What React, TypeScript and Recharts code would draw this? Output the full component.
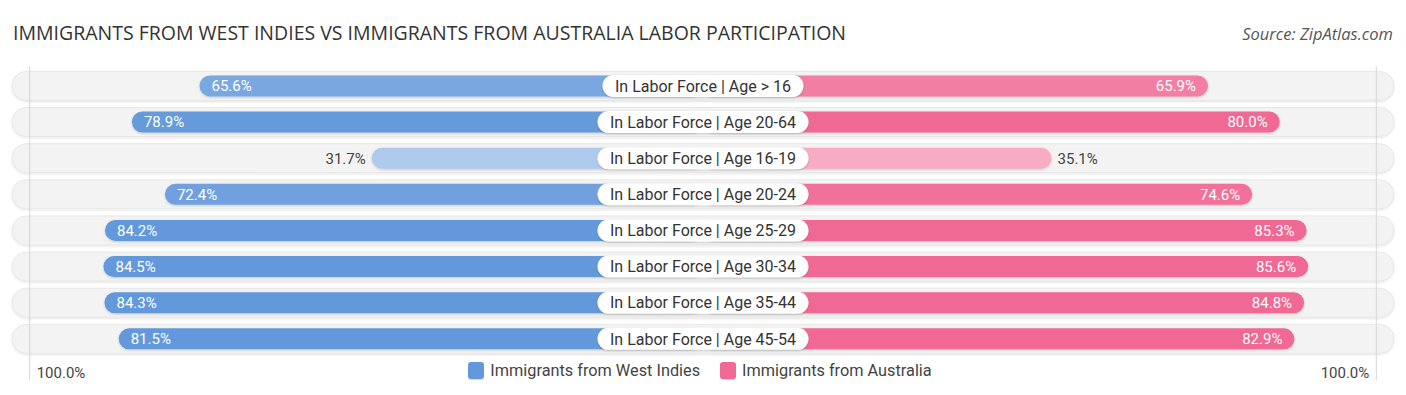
import React from 'react';
import { BarChart, Bar, XAxis, YAxis, Legend, LabelList } from 'recharts';

// ---- data ----
const categories = [
  'In Labor Force | Age > 16',
  'In Labor Force | Age 20-64',
  'In Labor Force | Age 16-19',
  'In Labor Force | Age 20-24',
  'In Labor Force | Age 25-29',
  'In Labor Force | Age 30-34',
  'In Labor Force | Age 35-44',
  'In Labor Force | Age 45-54',
];
const westIndies = [65.6, 78.9, 31.7, 72.4, 84.2, 84.5, 84.3, 81.5];
const australia = [65.9, 80.0, 35.1, 74.6, 85.3, 85.6, 84.8, 82.9];
const seriesNames = ['Immigrants from West Indies', 'Immigrants from Australia'];
const axisTickLabels = ['100.0%', '100.0%'];
const title = 'IMMIGRANTS FROM WEST INDIES VS IMMIGRANTS FROM AUSTRALIA LABOR PARTICIPATION';
const source = 'Source: ZipAtlas.com';

// ---- layout constants ----
const FULL = 100;
const GAP = 33.5; // half-width of the centre label zone, in value units
const DOMAIN = 136;
const W = 1406;
const H = 395;
const PLOT_TOP = 67.4;

const BLUE = '#6399db';
const PINK = '#f06994';

const data = categories.map((category, i) => ({ category, west: westIndies[i], aus: australia[i] }));

const mix = (hex: string, t: number) => {
  const n = parseInt(hex.slice(1), 16);
  const r = (n >> 16) & 255, g = (n >> 8) & 255, b = n & 255;
  const m = (c: number) => Math.round(c * t + 255 * (1 - t));
  return `rgb(${m(r)},${m(g)},${m(b)})`;
};
const intensity = (v: number) => Math.min(1, 0.2 + v / 100);

const norm = (x: number, w: number): [number, number] => (w < 0 ? [x + w, -w] : [x, w]);

let ctx: CanvasRenderingContext2D | null = null;
const measure = (text: string, font: string) => {
  if (!ctx) ctx = document.createElement('canvas').getContext('2d');
  if (!ctx) return text.length * 7.8;
  ctx.font = font;
  return ctx.measureText(text).width;
};

const LABEL_FONT = 'Roboto, "Noto Sans", sans-serif';
const VALUE_SIZE = 15;
const CENTER_SIZE = 16;

const BgShape = (props: any) => {
  const { x, y, width, height } = props;
  const h = height + 8;
  return (
    <rect x={x} y={y - 4} width={width} height={h} rx={h / 2} ry={h / 2} fill="#f3f3f3" stroke="#e4e4e4" strokeWidth={0.8} filter="url(#bgShadow)" />
  );
};

const makeBarShape = (color: string, side: 'L' | 'R') => (props: any) => {
  const { x, y, width, height, payload } = props;
  const [nx, nw] = norm(Number(x), Number(width));
  const v = side === 'L' ? payload.west : payload.aus;
  const r = height / 2;
  return <rect x={nx} y={y} width={nw} height={height} rx={r} ry={r} fill={mix(color, intensity(v))} filter="url(#barShadow)" />;
};

const makeValueLabel = (side: 'L' | 'R') => (props: any) => {
  const { x, y, width, height, value } = props;
  const [nx, nw] = norm(Number(x), Number(width));
  const v = Number(value);
  const inside = v >= 50;
  const cy = Number(y) + Number(height) / 2;
  let tx: number;
  let anchor: 'start' | 'end';
  if (side === 'L') {
    tx = inside ? nx + 12 : nx - 6;
    anchor = inside ? 'start' : 'end';
  } else {
    tx = inside ? nx + nw - 12 : nx + nw + 6;
    anchor = inside ? 'end' : 'start';
  }
  return (
    <text x={tx} y={cy} dy="0.36em" textAnchor={anchor} fontFamily={LABEL_FONT} fontSize={VALUE_SIZE} fill={inside ? '#ffffff' : '#444444'}>
      {v.toFixed(1)}%
    </text>
  );
};

const CenterLabel = (props: any) => {
  const { x, y, height, value } = props;
  const cx = Number(x);
  const cy = Number(y) + Number(height) / 2;
  const tw = measure(String(value), `${CENTER_SIZE}px Roboto`);
  const pw = tw + 25;
  const ph = Number(height) + 1;
  return (
    <g>
      <rect x={cx - pw / 2} y={cy - ph / 2} width={pw} height={ph} rx={ph / 2} ry={ph / 2} fill="#ffffff" filter="url(#pillShadow)" />
      <text x={cx} y={cy} dy="0.36em" textAnchor="middle" fontFamily={LABEL_FONT} fontSize={CENTER_SIZE} fill="#333333">
        {value}
      </text>
    </g>
  );
};

const AxisTick = (props: any) => {
  const { x, y, index } = props;
  const left = index === 0;
  const lx = left ? x + 5 : x - 5;
  return (
    <g>
      <line x1={lx} x2={lx} y1={PLOT_TOP - 1} y2={y + 16} stroke="#d6d6d6" strokeWidth={1} />
      <text x={left ? x + 12 : x - 12} y={y} dy="0.9em" textAnchor={left ? 'start' : 'end'} fontFamily={LABEL_FONT} fontSize={15} fill="#444444">
        {axisTickLabels[index]}
      </text>
    </g>
  );
};

const LegendContent = () => (
  <div style={{ display: 'flex', justifyContent: 'center', alignItems: 'center', height: 18, fontFamily: LABEL_FONT, fontSize: 16.3, color: '#444444', paddingRight: 6 }}>
    {seriesNames.map((n, i) => (
      <div key={n} style={{ display: 'flex', alignItems: 'center', marginRight: i === 0 ? 20 : 0 }}>
        <span style={{ display: 'inline-block', width: 16, height: 17, background: i === 0 ? BLUE : PINK, borderRadius: 3, marginRight: 6, boxShadow: '0 1px 1px rgba(0,0,0,0.15)' }} />
        <span>{n}</span>
      </div>
    ))}
  </div>
);

export default function App() {
  return (
    <div style={{ position: 'absolute', left: 0, top: 0, width: W, height: H, background: '#ffffff' }}>
      <div style={{ position: 'absolute', left: 13, top: 19, fontFamily: '"Open Sans", sans-serif', fontSize: 19.5, color: '#333333', whiteSpace: 'nowrap', letterSpacing: 0 }}>
        {title}
      </div>
      <div style={{ position: 'absolute', right: 13, top: 22, fontFamily: '"Open Sans", sans-serif', fontStyle: 'italic', fontSize: 16.5, color: '#555555', whiteSpace: 'nowrap' }}>
        {source}
      </div>
      <BarChart
        width={W}
        height={H}
        data={data}
        layout="vertical"
        stackOffset="sign"
        barSize={21}
        barCategoryGap={0}
        margin={{ top: PLOT_TOP, right: 12, bottom: 0.5, left: 12 }}
      >
        <defs>
          <filter id="bgShadow" x="-5%" y="-50%" width="110%" height="200%">
            <feDropShadow dx="0" dy="1" stdDeviation="1" floodColor="#000" floodOpacity="0.12" />
          </filter>
          <filter id="barShadow" x="-5%" y="-50%" width="110%" height="200%">
            <feDropShadow dx="0" dy="1" stdDeviation="0.8" floodColor="#000" floodOpacity="0.18" />
          </filter>
          <filter id="pillShadow" x="-10%" y="-50%" width="120%" height="200%">
            <feDropShadow dx="0" dy="1" stdDeviation="1" floodColor="#000" floodOpacity="0.18" />
          </filter>
        </defs>
        <YAxis type="category" dataKey="category" hide />
        <Bar
          dataKey={(d: any) => -(GAP + d.west)}
          stackId="s"
          name={seriesNames[0]}
          fill={BLUE}
          background={BgShape}
          shape={makeBarShape(BLUE, 'L')}
          isAnimationActive={false}
        >
          <LabelList dataKey="west" content={makeValueLabel('L')} />
        </Bar>
        <Bar
          dataKey={(d: any) => GAP + d.aus}
          stackId="s"
          name={seriesNames[1]}
          fill={PINK}
          shape={makeBarShape(PINK, 'R')}
          isAnimationActive={false}
        >
          <LabelList dataKey="aus" content={makeValueLabel('R')} />
          <LabelList dataKey="category" content={CenterLabel} />
        </Bar>
        <XAxis
          type="number"
          domain={[-DOMAIN, DOMAIN]}
          ticks={[-(FULL + GAP), FULL + GAP]}
          interval={0}
          axisLine={false}
          tickLine={false}
          height={20}
          tick={AxisTick}
          allowDataOverflow
        />
        <Legend content={<LegendContent />} verticalAlign="bottom" wrapperStyle={{ top: 361, left: 0, width: W, height: 18 }} />
      </BarChart>
    </div>
  );
}
